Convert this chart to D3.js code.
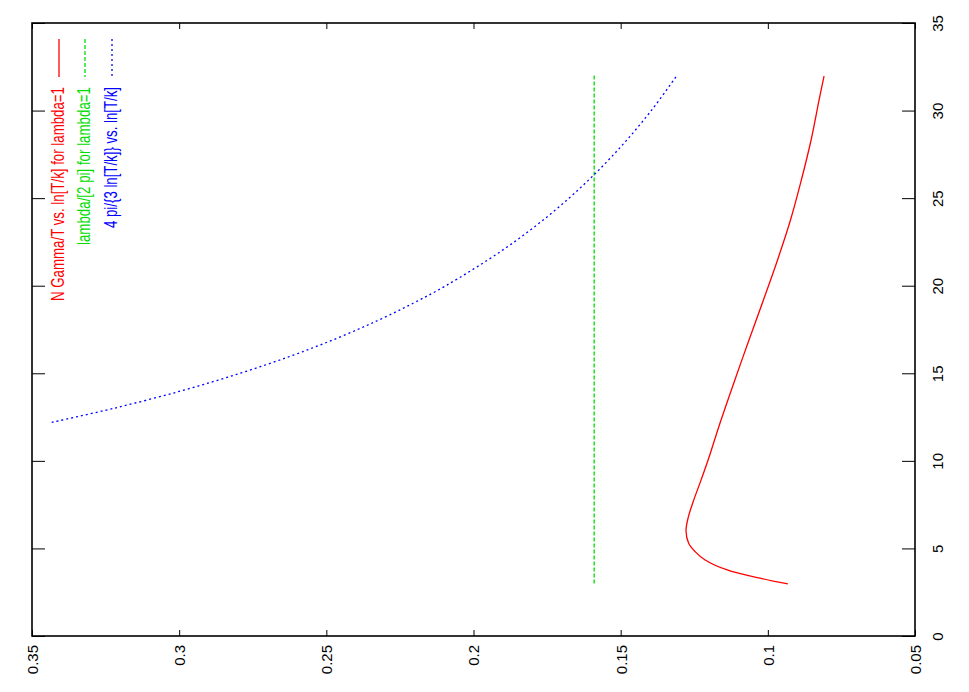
<!DOCTYPE html>
<html>
<head>
<meta charset="utf-8">
<script src="https://cdn.jsdelivr.net/npm/d3@7"></script>
<style>
  body { margin: 0; background: #fff; }
  svg { display: block; }
  .axis path, .axis line { stroke: #000; }
  .axis text { font-family: "Liberation Sans Narrow", "Arial Narrow", "Liberation Sans", sans-serif; font-size: 15px; fill: #000; }
  .legend text { font-family: "Liberation Sans Narrow", "Arial Narrow", "Liberation Sans", sans-serif; font-size: 18px; }
</style>
</head>
<body>
<svg id="chart" width="969" height="692"></svg>
<script>
// gnuplot output, printed rotated: ln[T/k] runs up the right side, values run along the bottom
const lnTicks = [0, 5, 10, 15, 20, 25, 30, 35];
const valTicks = [0.35, 0.3, 0.25, 0.2, 0.15, 0.1, 0.05];

// N Gamma/T vs. ln[T/k] for lambda=1
const redLn =   [2.97, 3.3, 3.77, 4.34, 4.82, 5.3, 6.0, 6.8, 7.65, 8.9, 10.05, 12.33, 14.62, 16.9, 19.18, 21.47, 23.75, 26.04, 28.32, 30.6, 31.97];
const redVals = [0.0932, 0.1026, 0.1138, 0.1213, 0.1247, 0.1269, 0.1278, 0.1270, 0.1254, 0.1227, 0.1203, 0.1159, 0.1112, 0.1064, 0.1015, 0.0967, 0.0923, 0.0886, 0.0853, 0.0826, 0.0809];

// lambda/[2 pi] for lambda=1
const greenLn =   [3.0, 32.0];
const greenVals = [0.159, 0.159];

// 4 pi/{3 ln[T/k]} vs. ln[T/k]
const blueLn =   [12.2, 13, 14, 15, 16, 17, 18, 19, 20, 22, 24, 26, 28, 30, 32];
const blueVals = [0.3433, 0.3222, 0.2992, 0.2793, 0.2618, 0.2464, 0.2327, 0.2205, 0.2094, 0.1904, 0.1745, 0.1611, 0.1496, 0.1396, 0.1309];

const legendLabels = [
  "N Gamma/T vs. ln[T/k] for lambda=1",
  "lambda/[2 pi] for lambda=1",
  "4 pi/{3 ln[T/k]} vs. ln[T/k]"
];

const margin = {top: 23, right: 54, bottom: 56, left: 32};
const svg = d3.select("#chart");
const width = 969, height = 692;

const x = d3.scaleLinear().domain([0.35, 0.05]).range([margin.left, width - margin.right]);
const y = d3.scaleLinear().domain([0, 35]).range([height - margin.bottom, margin.top]);

// bottom axis (values), labels rotated
const xAxis = svg.append("g")
  .attr("class", "axis axis-x")
  .attr("transform", "translate(0," + (height - margin.bottom) + ")")
  .call(d3.axisBottom(x).tickValues(valTicks).tickFormat(d3.format("")).tickSizeInner(-6).tickSizeOuter(0));
xAxis.selectAll("text")
  .attr("transform", "rotate(-90)")
  .attr("text-anchor", "end")
  .attr("x", -9)
  .attr("y", 0)
  .attr("dy", "0.36em");

// top mirror ticks
svg.append("g")
  .attr("class", "axis")
  .attr("transform", "translate(0," + margin.top + ")")
  .call(d3.axisTop(x).tickValues(valTicks).tickFormat("").tickSizeInner(-6).tickSizeOuter(0));

// right axis (ln[T/k]), labels rotated
const yAxis = svg.append("g")
  .attr("class", "axis axis-y")
  .attr("transform", "translate(" + (width - margin.right) + ",0)")
  .call(d3.axisRight(y).tickValues(lnTicks).tickSizeInner(-13).tickSizeOuter(0));
yAxis.selectAll("text")
  .attr("transform", "rotate(-90)")
  .attr("text-anchor", "middle")
  .attr("x", 0)
  .attr("y", 28)
  .attr("dy", 0);

// left mirror ticks
svg.append("g")
  .attr("class", "axis")
  .attr("transform", "translate(" + margin.left + ",0)")
  .call(d3.axisLeft(y).tickValues(lnTicks).tickFormat("").tickSizeInner(-13).tickSizeOuter(0));

svg.selectAll(".axis path").remove();

// frame
svg.append("rect")
  .attr("x", margin.left)
  .attr("y", margin.top)
  .attr("width", width - margin.left - margin.right)
  .attr("height", height - margin.top - margin.bottom)
  .style("fill", "none")
  .style("stroke", "#000")
  .style("stroke-width", 1.6);

const line = d3.line()
  .x(d => x(d[1]))
  .y(d => y(d[0]))
  .curve(d3.curveCatmullRom);

const series = [
  {ln: redLn, vals: redVals, color: "#ff0000", dash: null},
  {ln: greenLn, vals: greenVals, color: "#00dd00", dash: "4,2"},
  {ln: blueLn, vals: blueVals, color: "#0000ff", dash: "2,3"}
];

svg.selectAll(".sense")
  .data(series)
  .enter()
  .append("path")
  .attr("class", "sense")
  .attr("d", s => line(s.ln.map((l, i) => [l, s.vals[i]])))
  .style("fill", "none")
  .style("stroke", s => s.color)
  .style("stroke-width", 1.3)
  .style("stroke-dasharray", s => s.dash);

// legend, rotated like the rest
const legendX = [58, 84, 111];
const legendLen = [214, 158, 141];
const legend = svg.append("g").attr("class", "legend");
series.forEach((s, i) => {
  legend.append("line")
    .attr("x1", legendX[i] + 1).attr("x2", legendX[i] + 1)
    .attr("y1", 39).attr("y2", 77)
    .style("stroke", s.color)
    .style("stroke-width", 1.3)
    .style("stroke-dasharray", s.dash);
  legend.append("text")
    .attr("transform", "translate(" + legendX[i] + ",87) rotate(-90)")
    .attr("text-anchor", "end")
    .attr("dy", "0.36em")
    .attr("textLength", legendLen[i])
    .attr("lengthAdjust", "spacingAndGlyphs")
    .style("fill", s.color)
    .text(legendLabels[i]);
});
</script>
</body>
</html>
